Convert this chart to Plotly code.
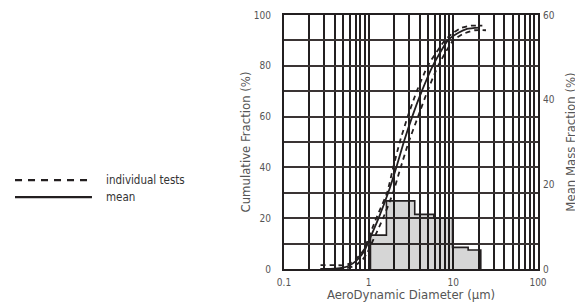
import plotly.graph_objects as go

# ---- data ----
mean_d = [0.27, 0.4, 0.5, 0.6, 0.7, 0.8, 0.9, 0.973, 1.31, 1.70, 2.12, 2.60, 3.27, 4.24, 5.72, 8.61, 11.5, 14.5, 20.6]
mean_c = [0.0, 0.1, 0.5, 1.5, 3.0, 5.0, 7.5, 10, 20, 30, 40, 50, 60, 70, 80, 90, 93, 94.5, 95]

test_hi_d = [0.27, 0.4, 0.52, 0.6, 0.7, 0.8, 0.9, 0.94, 1.23, 1.65, 1.95, 2.33, 2.89, 3.70, 4.99, 7.93, 10.0, 12.5, 16.0, 22.0]
test_hi_c = [1.5, 1.5, 1.5, 2.2, 3.8, 5.8, 8.0, 10, 20, 30, 40, 50, 60, 70, 80, 90, 93, 95, 95.8, 95.8]

test_lo_d = [0.27, 0.45, 0.55, 0.65, 0.75, 0.85, 0.95, 1.08, 1.48, 1.94, 2.39, 2.97, 3.83, 4.95, 6.61, 9.95, 12.9, 17.9, 24.3]
test_lo_c = [0.0, 0.0, 0.3, 1.0, 2.2, 3.8, 6.0, 10, 20, 30, 40, 50, 60, 70, 80, 90, 92.5, 94, 94]

bin_edges = [1.05, 1.62, 3.50, 5.88, 9.79, 14.96, 21.1]
mass_frac = [8.0, 16.1, 12.9, 12.0, 5.1, 4.5]

x_major = [0.1, 1, 10, 100]
x_grid = [0.1, 0.2, 0.3, 0.4, 0.5, 0.6, 0.7, 0.8, 0.9,
          1, 2, 3, 4, 5, 6, 7, 8, 9,
          10, 20, 30, 40, 50, 60, 70, 80, 90, 100]
y_left_grid = [0, 10, 20, 30, 40, 50, 60, 70, 80, 90, 100]
y_left_labels = [0, 20, 40, 60, 80, 100]
y_right_labels = [0, 20, 40, 60]

FONT = "DejaVu Sans Condensed, Liberation Sans Narrow, Roboto Condensed, sans-serif"
DARK = "#231f20"
GREY = "#555555"

# histogram as stepped outline
hx = [bin_edges[0]] + bin_edges[:-1] + [bin_edges[-1], bin_edges[-1]]
hy = [0] + mass_frac + [mass_frac[-1], 0]

fig = go.Figure()
fig.add_trace(go.Scatter(x=hx, y=hy, yaxis="y2", mode="lines",
                         line=dict(shape="hv", color=DARK, width=1.6),
                         fill="tozeroy", fillcolor="rgba(0,0,0,0.16)",
                         showlegend=False, hoverinfo="skip"))
for d, c in [(test_hi_d, test_hi_c), (test_lo_d, test_lo_c)]:
    fig.add_trace(go.Scatter(x=d, y=c, mode="lines", name="individual tests",
                             line=dict(color=DARK, width=1.8, dash="5px,4px", shape="spline", smoothing=0.5),
                             showlegend=False))
fig.add_trace(go.Scatter(x=mean_d, y=mean_c, mode="lines", name="mean",
                         line=dict(color=DARK, width=1.8, shape="spline", smoothing=0.5),
                         showlegend=False))

xticktext = [("%g" % v) if v in x_major else "" for v in x_grid]
yticktext = [str(v) if v in y_left_labels else "" for v in y_left_grid]

# the page body adds an 8px margin, so the figure is sized to fit inside the window
fig.update_layout(
    width=575, height=294,
    margin=dict(l=276, r=45, t=7, b=33, autoexpand=False),
    paper_bgcolor="white", plot_bgcolor="white",
    font=dict(family=FONT, color=GREY, size=10),
    xaxis=dict(type="log", range=[-1, 2], tickmode="array", tickvals=x_grid, ticktext=xticktext,
               showgrid=True, gridcolor=DARK, gridwidth=1.8, ticks="", automargin=False,
               showline=True, mirror=True, linecolor=DARK, linewidth=2, zeroline=False,
               tickfont=dict(size=10, color=GREY), ticklabelstandoff=3,
               title=dict(text="AeroDynamic Diameter (µm)", font=dict(size=13, color=GREY), standoff=2)),
    yaxis=dict(range=[0, 100], tickmode="array", tickvals=y_left_grid, ticktext=yticktext,
               showgrid=True, gridcolor="#3a3434", gridwidth=1.8, ticks="", zeroline=False,
               showline=True, mirror=True, linecolor=DARK, linewidth=2, automargin=False,
               tickfont=dict(size=10, color=GREY), ticklabelstandoff=9,
               title=dict(text="Cumulative Fraction (%)", font=dict(size=13, color=GREY), standoff=0)),
    yaxis2=dict(range=[0, 60], overlaying="y", side="right", tickmode="array",
                tickvals=y_right_labels, showgrid=False, zeroline=False, ticks="",
                showline=False, automargin=False, tickfont=dict(size=10, color=GREY),
                ticklabelstandoff=4,
                title=dict(text="Mean Mass Fraction (%)", font=dict(size=13, color=GREY), standoff=12)),
)

# legend drawn at left of the chart
legend_items = [("individual tests", "7px,6px", 0.350), ("mean", "solid", 0.283)]
for label, dash, yp in legend_items:
    fig.add_shape(type="line", xref="paper", yref="paper", x0=-1.059, x1=-0.756, y0=yp, y1=yp,
                  line=dict(color=DARK, width=2.2, dash=dash))
    fig.add_annotation(xref="paper", yref="paper", x=-0.71, y=yp, text=label, showarrow=False,
                       xanchor="left", yanchor="middle", font=dict(size=11.5, color="#333333"))

fig.write_html("out.html")
